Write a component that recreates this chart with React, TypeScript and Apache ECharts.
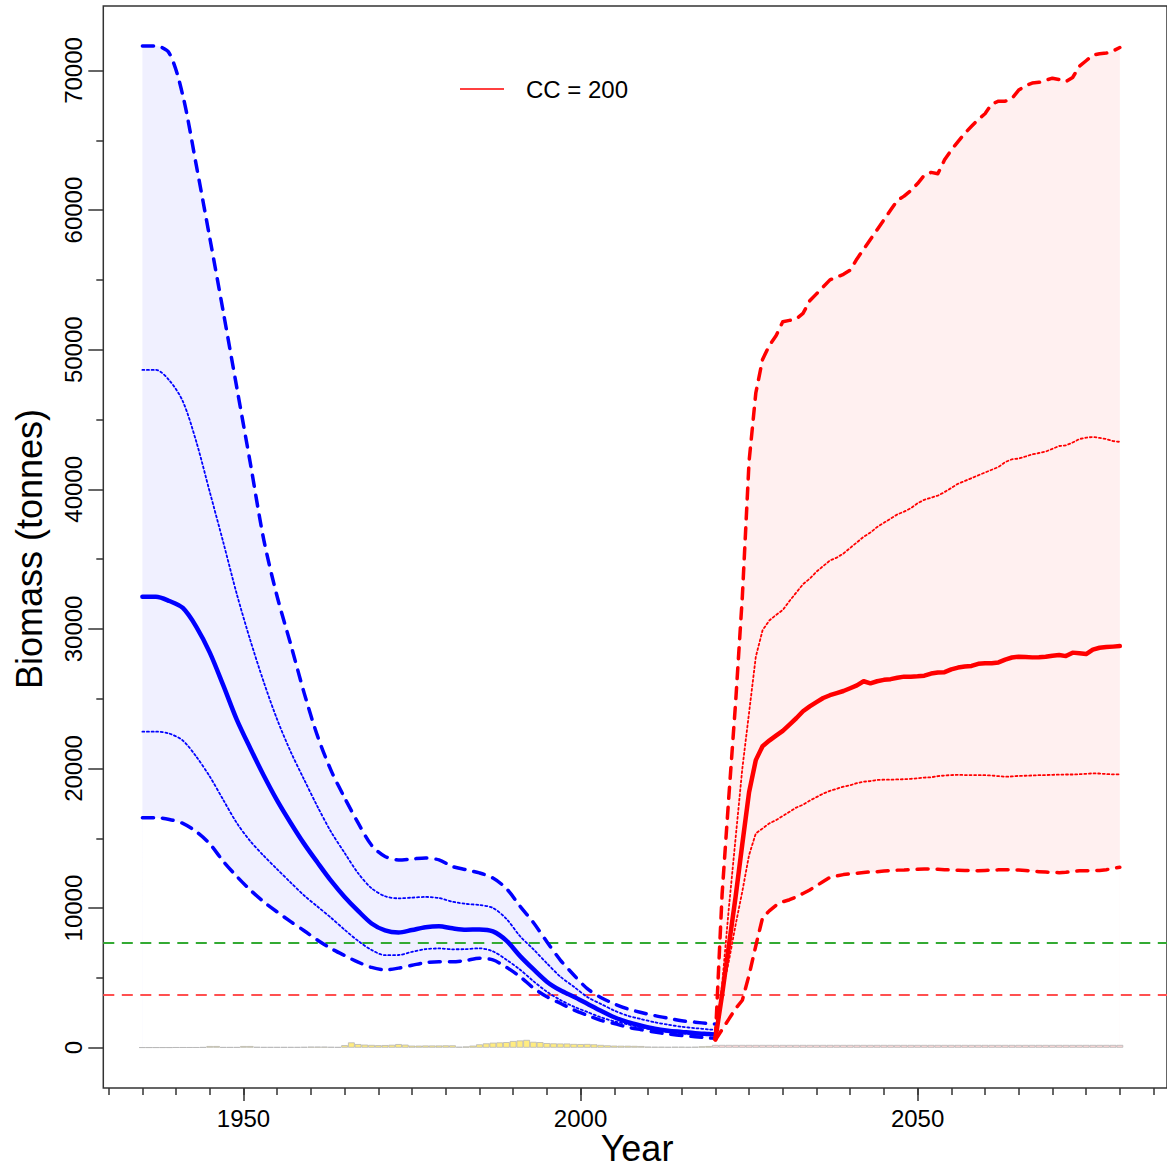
import React, { useEffect, useRef } from 'react';
import * as echarts from 'echarts';

const FONT = '"Liberation Sans", Arial, Helvetica, sans-serif';

// ---- axes ----
const X_MIN = 1929.2;
const X_MAX = 2087;
const Y_MIN = -2887;
const Y_MAX = 74620;
const xMinorTicks = [1930, 1935, 1940, 1945, 1950, 1955, 1960, 1965, 1970, 1975, 1980, 1985, 1990, 1995, 2000, 2005, 2010, 2015, 2020, 2025, 2030, 2035, 2040, 2045, 2050, 2055, 2060, 2065, 2070, 2075, 2080, 2085];
const xMajorTicks = [1950, 2000, 2050];
const yMajorTicks = [0, 10000, 20000, 30000, 40000, 50000, 60000, 70000];
const yMinorTicks = [5000, 15000, 25000, 35000, 45000, 55000, 65000];

// ---- historical biomass (blue) ----
const blueYears = [1935, 1937, 1939, 1941, 1943, 1945, 1947, 1949, 1951, 1953, 1955, 1957, 1959, 1961, 1963, 1965, 1967, 1969, 1971, 1973, 1975, 1977, 1979, 1981, 1983, 1985, 1987, 1989, 1991, 1993, 1995, 1997, 1999, 2001, 2003, 2005, 2007, 2009, 2011, 2013, 2015, 2017, 2019, 2020];
const blueMedian = [32300, 32300, 32000, 31500, 30150, 28300, 25950, 23500, 21450, 19500, 17700, 16100, 14600, 13250, 11950, 10800, 9800, 8900, 8400, 8250, 8430, 8630, 8700, 8550, 8450, 8470, 8330, 7670, 6580, 5620, 4730, 4110, 3650, 3150, 2650, 2180, 1830, 1580, 1360, 1220, 1130, 1040, 980, 950];
const blueUpper95 = [71750, 71750, 71230, 68200, 63200, 58000, 52700, 47300, 41900, 36400, 32300, 28900, 25400, 22300, 19850, 17900, 16100, 14500, 13700, 13450, 13520, 13590, 13450, 12980, 12750, 12520, 12150, 11400, 10150, 8970, 7590, 6280, 5210, 4230, 3600, 3140, 2780, 2520, 2300, 2110, 1930, 1830, 1730, 1700];
const blueLower95 = [16480, 16480, 16350, 16070, 15470, 14600, 13350, 12270, 11300, 10450, 9720, 9030, 8380, 7700, 7100, 6600, 6130, 5750, 5580, 5700, 5900, 6100, 6160, 6150, 6250, 6400, 6290, 5760, 5100, 4280, 3650, 3180, 2700, 2320, 1960, 1730, 1470, 1290, 1120, 980, 870, 790, 700, 670];
const blueUpper75 = [48550, 48550, 47800, 46300, 43400, 39800, 36200, 32500, 29200, 26200, 23500, 21200, 19200, 17250, 15450, 13950, 12500, 11420, 10850, 10700, 10750, 10800, 10720, 10460, 10300, 10220, 10010, 9230, 8000, 7050, 6050, 5090, 4370, 3630, 3140, 2660, 2290, 2050, 1820, 1650, 1500, 1400, 1310, 1270];
const blueLower75 = [22640, 22640, 22500, 22000, 20850, 19420, 17750, 16100, 14800, 13750, 12780, 11830, 10900, 10100, 9300, 8450, 7650, 7000, 6630, 6640, 6870, 7060, 7110, 7050, 7060, 7120, 6900, 6300, 5600, 4770, 4010, 3420, 2940, 2560, 2180, 1890, 1670, 1450, 1260, 1130, 1030, 970, 930, 890];

// ---- projection, CC = 200 (red), 2020..2080 ----
const yearRange = (a: number, b: number) => { const r: number[] = []; for (let y = a; y <= b; y++) r.push(y); return r; };
const redYears = yearRange(2020, 2080);
const redMedian = [600, 3800, 7300, 10800, 14600, 18300, 20600, 21600, 22000, 22350, 22700, 23150, 23600, 24100, 24450, 24750, 25050, 25250, 25400, 25550, 25750, 25950, 26250, 26100, 26250, 26350, 26400, 26500, 26580, 26580, 26600, 26650, 26800, 26870, 26900, 27100, 27230, 27300, 27350, 27500, 27540, 27540, 27600, 27800, 27950, 28010, 27980, 27960, 27970, 28000, 28080, 28130, 28050, 28300, 28260, 28200, 28520, 28650, 28700, 28730, 28770];
const redUpper95 = [700, 11000, 18000, 24700, 32300, 42000, 46900, 49300, 50300, 51000, 52000, 52100, 52200, 52600, 53500, 54000, 54500, 55000, 55200, 55400, 55700, 56500, 57200, 57900, 58600, 59300, 60000, 60700, 61000, 61400, 61900, 62500, 62700, 62600, 63600, 64300, 64900, 65500, 66000, 66500, 66900, 67600, 67800, 67800, 68000, 68600, 68900, 69100, 69150, 69300, 69450, 69350, 69200, 69500, 70300, 70700, 71100, 71200, 71250, 71400, 71650];
const redLower95 = [550, 1300, 2050, 2800, 3400, 5200, 7300, 9300, 9800, 10200, 10450, 10600, 10800, 11050, 11300, 11600, 11900, 12200, 12300, 12400, 12450, 12500, 12550, 12600, 12610, 12650, 12700, 12720, 12730, 12760, 12780, 12800, 12800, 12780, 12750, 12730, 12710, 12700, 12680, 12680, 12700, 12730, 12740, 12740, 12740, 12730, 12700, 12650, 12610, 12580, 12560, 12540, 12560, 12620, 12680, 12680, 12680, 12700, 12750, 12850, 12920];
const redUpper75 = [650, 4500, 10000, 15000, 20000, 24000, 28000, 29900, 30600, 31000, 31350, 32000, 32600, 33200, 33600, 34100, 34500, 34900, 35100, 35400, 35800, 36200, 36600, 36900, 37300, 37600, 37900, 38200, 38400, 38650, 39000, 39250, 39400, 39550, 39800, 40100, 40400, 40600, 40800, 41000, 41200, 41400, 41600, 41950, 42150, 42200, 42350, 42500, 42600, 42700, 42900, 43100, 43150, 43350, 43600, 43700, 43750, 43680, 43600, 43450, 43400];
const redLower75 = [600, 3900, 6200, 8800, 11200, 13800, 15350, 15700, 16070, 16300, 16600, 16900, 17200, 17400, 17700, 17950, 18200, 18400, 18550, 18700, 18800, 18950, 19050, 19100, 19180, 19200, 19200, 19220, 19230, 19260, 19300, 19350, 19370, 19450, 19500, 19530, 19550, 19530, 19530, 19530, 19520, 19500, 19450, 19410, 19430, 19470, 19480, 19500, 19520, 19530, 19550, 19560, 19570, 19570, 19590, 19620, 19650, 19640, 19600, 19580, 19580];

// ---- catches ----
const histCatchYears = yearRange(1935, 2019);
const histCatch = [20, 20, 20, 20, 20, 30, 30, 30, 30, 40, 120, 120, 40, 40, 40, 120, 120, 60, 50, 50, 50, 50, 50, 50, 60, 80, 80, 80, 60, 50, 180, 380, 260, 220, 200, 180, 190, 210, 260, 220, 150, 150, 160, 160, 160, 170, 170, 70, 90, 150, 240, 310, 360, 380, 400, 480, 520, 560, 420, 400, 330, 310, 300, 300, 270, 260, 270, 240, 200, 170, 150, 140, 140, 130, 120, 80, 70, 70, 60, 70, 70, 60, 70, 100, 120];
const projCatchYears = yearRange(2020, 2080);
const projCatch = [200, 200, 200, 200, 200, 200, 200, 200, 200, 200, 200, 200, 200, 200, 200, 200, 200, 200, 200, 200, 200, 200, 200, 200, 200, 200, 200, 200, 200, 200, 200, 200, 200, 200, 200, 200, 200, 200, 200, 200, 200, 200, 200, 200, 200, 200, 200, 200, 200, 200, 200, 200, 200, 200, 200, 200, 200, 200, 200, 200, 200];

// ---- reference points ----
const targetRef = 7550;
const limitRef = 3775;

const pts = (xs: number[], ys: number[]) => xs.map((x, i) => [x, ys[i]]);

const BLUE = '#0000ff';
const RED = '#ff0000';
const DASH = [11, 9];
const DOT = [2, 2.6];

function lineSeries(name: string, xs: number[], ys: number[], color: string, width: number, type: any, smooth: number | boolean) {
  return {
    type: 'line', name, data: pts(xs, ys), symbol: 'none', smooth, silent: true, z: 4,
    lineStyle: { color, width, type, cap: 'round', join: 'round' },
  };
}

function areaSeries(name: string, xs: number[], ys: number[], fill: string, z: number, smooth: number | boolean) {
  return {
    type: 'line', name, data: pts(xs, ys), symbol: 'none', smooth, silent: true, z,
    lineStyle: { width: 0, opacity: 0 },
    areaStyle: { color: fill, opacity: 1, origin: 'auto' },
  };
}

export default function App() {
  const ref = useRef<HTMLDivElement>(null);
  useEffect(() => {
    const chart = echarts.init(ref.current!, null, { renderer: 'svg' });
    const tickStyle = { color: '#333', width: 1.5 };
    const fmt = (v: number) => String(v);
    const SM = 0.3;
    const noLine = { show: false, onZero: false };
    const option: any = {
      animation: false,
      backgroundColor: '#ffffff',
      grid: { left: 103.3, top: 6, right: -12.5, bottom: 78, show: true, borderColor: '#333', borderWidth: 1.5, backgroundColor: 'transparent' },
      legend: {
        left: 455, top: 72, itemWidth: 44, itemHeight: 1.5, icon: 'rect', itemGap: 0,
        textStyle: { fontSize: 24, fontFamily: FONT, color: '#000', padding: [0, 0, 0, 17] },
        data: [{ name: 'CC = 200', icon: 'rect', itemStyle: { color: RED } }],
        selectedMode: false,
      },
      xAxis: [
        {
          type: 'value', min: X_MIN, max: X_MAX, position: 'bottom',
          axisLine: noLine, splitLine: { show: false },
          axisTick: { show: true, length: 7, customValues: xMinorTicks, lineStyle: tickStyle },
          axisLabel: { show: false },
        },
        {
          type: 'value', min: X_MIN, max: X_MAX, position: 'bottom',
          axisLine: noLine, splitLine: { show: false },
          axisTick: { show: true, length: 13, customValues: xMajorTicks, lineStyle: tickStyle },
          axisLabel: { show: true, customValues: xMajorTicks, formatter: fmt, fontSize: 24, fontFamily: FONT, color: '#000', margin: 18 },
        },
      ],
      yAxis: [
        {
          type: 'value', min: Y_MIN, max: Y_MAX, position: 'left',
          axisLine: noLine, splitLine: { show: false },
          axisTick: { show: true, length: 15, customValues: yMajorTicks, lineStyle: tickStyle },
          axisLabel: { show: true, customValues: yMajorTicks, formatter: fmt, rotate: 90, fontSize: 24, fontFamily: FONT, color: '#000', margin: 18 },
        },
        {
          type: 'value', min: Y_MIN, max: Y_MAX, position: 'left',
          axisLine: noLine, splitLine: { show: false },
          axisTick: { show: true, length: 7, customValues: yMinorTicks, lineStyle: tickStyle },
          axisLabel: { show: false },
        },
      ],
      graphic: [
        { type: 'text', x: 637, y: 1148, silent: true, style: { text: 'Year', align: 'center', verticalAlign: 'middle', fontSize: 36, fontFamily: FONT, fill: '#000' } },
        { type: 'text', x: 29, y: 549, rotation: Math.PI / 2, silent: true, style: { text: 'Biomass (tonnes)', align: 'center', verticalAlign: 'middle', fontSize: 36, fontFamily: FONT, fill: '#000' } },
      ],
      series: [
        // bands: upper envelope filled, lower envelope covered with background
        areaSeries('bBand', blueYears, blueUpper95, '#f0f0ff', 1, SM),
        areaSeries('bCover', blueYears, blueLower95, '#ffffff', 1.5, SM),
        areaSeries('rBand', redYears, redUpper95, '#fff0f0', 1, false),
        areaSeries('rCover', redYears, redLower95, '#ffffff', 1.5, false),
        // catches
        {
          type: 'bar', name: 'catch', barWidth: 6.8, silent: true, z: 2,
          itemStyle: { borderColor: '#b5b5b5', borderWidth: 0.8 },
          data: [
            ...histCatchYears.map((y, i) => ({ value: [y, histCatch[i]], itemStyle: { color: '#ffec80' } })),
            ...projCatchYears.map((y, i) => ({ value: [y, projCatch[i]], itemStyle: { color: '#ffd8d8' } })),
          ],
          markLine: {
            silent: true, symbol: ['none', 'none'], z: 3, label: { show: false },
            data: [
              { yAxis: targetRef, lineStyle: { color: '#33aa33', width: 2, type: [11, 7.5] } },
              { yAxis: limitRef, lineStyle: { color: '#ff5050', width: 2, type: [11, 7.5] } },
            ],
          },
        },
        // blue lines
        lineSeries('b95u', blueYears, blueUpper95, BLUE, 3.5, DASH, SM),
        lineSeries('b95l', blueYears, blueLower95, BLUE, 3.5, DASH, SM),
        lineSeries('b75u', blueYears, blueUpper75, BLUE, 1.8, DOT, SM),
        lineSeries('b75l', blueYears, blueLower75, BLUE, 1.8, DOT, SM),
        lineSeries('bMed', blueYears, blueMedian, BLUE, 4.5, 'solid', SM),
        // red lines
        lineSeries('r95u', redYears, redUpper95, RED, 3.5, DASH, false),
        lineSeries('r95l', redYears, redLower95, RED, 3.5, DASH, false),
        lineSeries('r75u', redYears, redUpper75, RED, 1.8, DOT, false),
        lineSeries('r75l', redYears, redLower75, RED, 1.8, DOT, false),
        lineSeries('CC = 200', redYears, redMedian, RED, 4.5, 'solid', false),
      ],
    };
    chart.setOption(option);
    return () => chart.dispose();
  }, []);
  return <div ref={ref} style={{ position: 'fixed', left: 0, top: 0, width: 1167, height: 1166, background: '#fff' }} />;
}
